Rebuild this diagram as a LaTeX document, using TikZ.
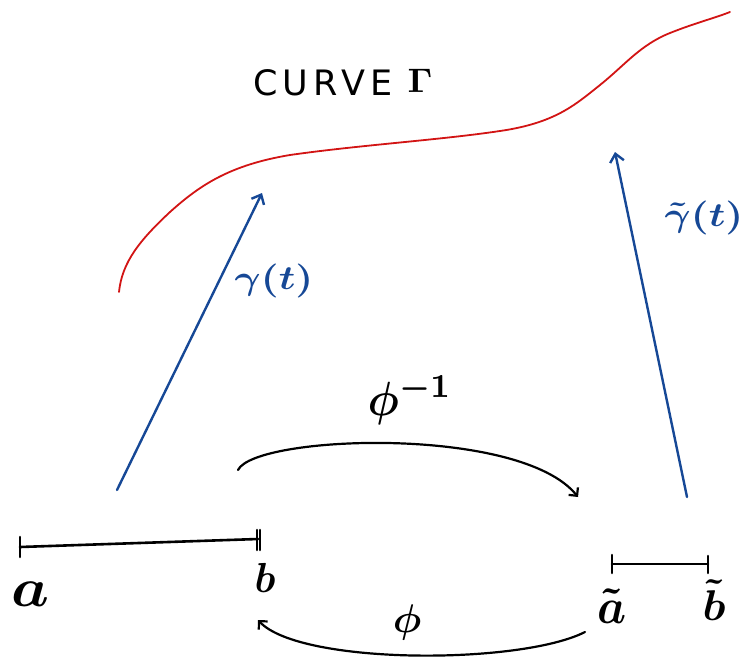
\documentclass[tikz,border=0pt]{standalone}
\usepackage{fontspec}
\newfontfamily\curvefont[LetterSpace=15]{DejaVu Sans}
\usetikzlibrary{arrows.meta}
\definecolor{penblue}{RGB}{22,72,150}
\definecolor{penred}{RGB}{210,20,20}
\tikzset{
  pen/.style={line width=2.6pt, line cap=round, line join=round},
  blueline/.style={pen, line width=2.4pt, draw=penblue, -{Straight Barb[length=8pt,width=14pt]}},
  blackarc/.style={pen, line width=2.2pt, draw=black, -{Straight Barb[length=6pt,width=12pt]}},
  lbl/.style={inner sep=0pt, font=\boldmath},
  bluelbl/.style={lbl, text=penblue},
}
\begin{document}
\begin{tikzpicture}[x=1pt,y=-1pt]
\useasboundingbox (0,0) rectangle (746,661);
% curve Gamma
\draw[penred, line width=1.8pt, line cap=round]
  (119,292) .. controls (122,262) and (140,240) .. (170,212)
  .. controls (200,185) and (230,165) .. (290,155)
  .. controls (360,145) and (440,140) .. (500,131)
  .. controls (555,123) and (575,105) .. (600,85)
  .. controls (625,65) and (640,45) .. (670,33)
  .. controls (695,23) and (715,18) .. (730,12);
\node[inner sep=0pt, font=\curvefont\fontsize{35}{40}\selectfont] (curve) at (323,83) {CURVE};
\node[lbl] (gam) at (420,81) {\scalebox{3.6}[3.4]{$\Gamma$}};
% intervals
\coordinate (a) at (20,547);
\coordinate (b) at (258,539);
\draw[pen] (a) -- (b);
\draw[pen] (20,537) -- (20,557);
\draw[pen] (257,530) -- (257,550);
\draw[pen] (260,530) -- (260,550);
\node[lbl] (la) at (30,594) {\scalebox{6}[5.5]{$a$}};
\node[lbl] (lb) at (265,578) {\scalebox{4}[4.2]{$b$}};
\coordinate (ta) at (612,564);
\coordinate (tb) at (708,564);
\draw[pen] (ta) -- (tb);
\draw[pen] (612,555) -- (612,573);
\draw[pen] (708,556) -- (708,573);
\node[lbl] (lta) at (612,606) {\scalebox{4.6}[5]{$\tilde a$}};
\node[lbl] (ltb) at (714,600) {\scalebox{4.4}[4.3]{$\tilde b$}};
% gamma arrows
\coordinate (g1s) at (117,490);
\coordinate (g1e) at (262,193);
\draw[blueline] (g1s) -- (g1e);
\node[bluelbl] (g1) at (274,281) {\scalebox{4}[3.4]{$\gamma(t)$}};
\coordinate (g2s) at (687,497);
\coordinate (g2e) at (615,152);
\draw[blueline] (g2s) -- (g2e);
\node[bluelbl] (g2) at (704,218) {\scalebox{4}[3.4]{$\tilde\gamma(t)$}};
% phi arcs
\coordinate (p1s) at (238,470);
\coordinate (p1e) at (578,497);
\draw[blackarc] (p1s) .. controls (255,435) and (520,425) .. (p1e);
\node[lbl] (phiinv) at (410,400) {\scalebox{4.4}[4.8]{$\phi^{-1}$}};
\coordinate (p2s) at (585,632);
\coordinate (p2e) at (258,620);
\draw[blackarc] (p2s) .. controls (520,665) and (300,665) .. (p2e);
\node[lbl] (phi) at (407,622) {\scalebox{4}{$\phi$}};
\end{tikzpicture}
\end{document}
